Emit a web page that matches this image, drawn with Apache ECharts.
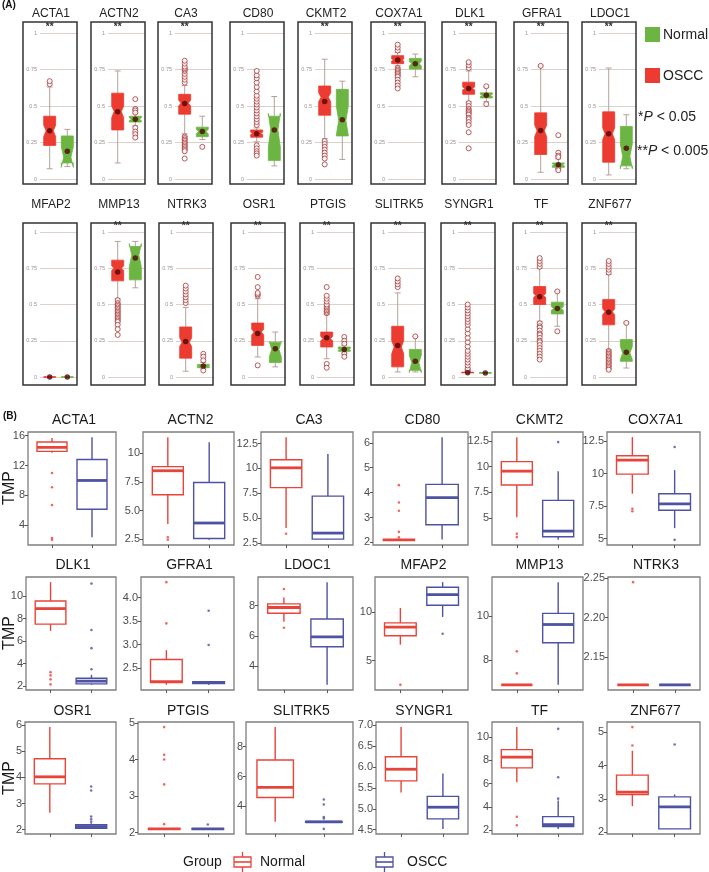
<!DOCTYPE html>
<html><head><meta charset="utf-8">
<script src="https://cdn.jsdelivr.net/npm/echarts@6/dist/echarts.min.js"></script>
<style>html,body{margin:0;padding:0;background:#fff}#c{width:709px;height:872px}</style>
</head><body><div id="c"></div><script>
const FONT = "'Liberation Sans', Arial, sans-serif";

// ---------- Panel A data (values 0..1) ----------
const A_genes = ['ACTA1','ACTN2','CA3','CD80','CKMT2','COX7A1','DLK1','GFRA1','LDOC1',
                 'MFAP2','MMP13','NTRK3','OSR1','PTGIS','SLITRK5','SYNGR1','TF','ZNF677'];
const A_sig = ['**','**','**','','**','**','**','**','**','','**','**','**','**','**','**','**','**'];
const A_ticks = [0, 0.25, 0.5, 0.75, 1];
// [whiskerLow, q1, median, q3, whiskerHigh]
const A_oscc = [
  [0.07,0.23,0.33,0.43,0.63],[0.11,0.336,0.462,0.588,0.74],[0.31,0.444,0.52,0.58,0.64],
  [0.255,0.286,0.313,0.336,0.35],[0.276,0.437,0.56,0.637,0.82],[0.776,0.79,0.815,0.845,0.867],
  [0.53,0.58,0.62,0.663,0.74],[0.046,0.168,0.33,0.453,0.775],[0.028,0.115,0.31,0.46,0.76],
  [0,0,0,0,0],[0.54,0.663,0.75,0.806,0.935],[0.04,0.13,0.24,0.345,0.48],
  [0.138,0.218,0.31,0.372,0.54],[0.126,0.207,0.264,0.31,0.43],[0.035,0.07,0.207,0.35,0.58],
  [0.03,0.03,0.03,0.033,0.036],[0.385,0.5,0.562,0.624,0.75],[0.19,0.36,0.45,0.535,0.707]
];
const A_osccNotch = [
  [0.29,0.37],[0.42,0.50],[0.50,0.54],[0.305,0.32],[0.53,0.59],[0.808,0.822],
  [0.61,0.63],[0.29,0.37],[0.27,0.35],[0,0],[0.735,0.765],[0.21,0.27],
  [0.29,0.33],[0.25,0.28],[0.16,0.25],[0.03,0.03],[0.55,0.575],[0.43,0.47]
];
const A_osccMean = [0.33,0.46,0.517,0.31,0.53,0.815,0.62,0.333,0.31,0,0.725,0.245,0.30,0.27,0.218,0.03,0.553,0.447];
const A_osccOut = [
  [0.65,0.67],
  [],
  [0.66,0.68,0.70,0.72,0.74,0.75,0.76,0.77,0.79,0.81,0.29,0.28,0.27,0.26,0.25,0.24,0.23,0.22,0.21,0.20,0.19,0.14],
  [0.37,0.39,0.41,0.43,0.45,0.47,0.49,0.51,0.53,0.55,0.57,0.60,0.63,0.66,0.69,0.71,0.74,0.23,0.21,0.19,0.175,0.16],
  [0.26,0.24,0.22,0.20,0.18,0.16,0.14,0.10],
  [0.88,0.90,0.92,0.76,0.75,0.74,0.73,0.72,0.71,0.70,0.68,0.66,0.64,0.62],
  [0.76,0.78,0.80,0.52,0.50,0.48,0.47,0.46,0.45,0.44,0.42,0.41,0.39,0.37,0.32,0.21],
  [0.775],
  [],
  [],
  [0.53,0.51,0.50,0.49,0.48,0.47,0.46,0.45,0.44,0.43,0.42,0.41,0.40,0.39,0.38,0.36,0.33,0.29],
  [0.51,0.53,0.55,0.57,0.59,0.61,0.63],
  [0.56,0.57,0.58,0.62,0.69,0.08],
  [0.44,0.45,0.46,0.47,0.48,0.49,0.50,0.52,0.54,0.56,0.62,0.09,0.064],
  [0.62,0.64,0.66,0.68],
  [0.04,0.05,0.06,0.08,0.10,0.12,0.14,0.16,0.18,0.21,0.24,0.27,0.30,0.33,0.36,0.38,0.40,0.42,0.44,0.46,0.48,0.50],
  [0.76,0.78,0.80,0.82,0.37,0.35,0.34,0.32,0.30,0.29,0.27,0.25,0.24,0.22,0.20,0.18,0.16,0.14,0.12],
  [0.72,0.74,0.76,0.78,0.80,0.18,0.17,0.16,0.15,0.14,0.13,0.12,0.11,0.10,0.09,0.08,0.07,0.06,0.05]
];
const A_normal = [
  [0.085,0.11,0.15,0.295,0.34],[0.364,0.39,0.41,0.43,0.45],[0.27,0.29,0.325,0.355,0.43],
  [0.09,0.126,0.336,0.43,0.565],[0.134,0.295,0.40,0.614,0.67],[0.70,0.753,0.79,0.826,0.856],
  [0.53,0.555,0.573,0.59,0.63],[0.074,0.08,0.097,0.11,0.138],[0.07,0.09,0.155,0.36,0.44],
  [0,0,0,0,0],[0.615,0.67,0.84,0.9,0.935],[0.057,0.064,0.076,0.087,0.1],
  [0.07,0.10,0.19,0.24,0.31],[0.166,0.177,0.19,0.207,0.22],[0.035,0.046,0.10,0.19,0.28],
  [0.025,0.027,0.028,0.029,0.031],[0.35,0.435,0.472,0.516,0.59],[0.062,0.108,0.166,0.258,0.373]
];
const A_normalNotch = [
  [0.08,0.22],[0.40,0.42],[0.31,0.34],[0.22,0.45],[0.30,0.50],[0.775,0.805],
  [0.565,0.58],[0.09,0.104],[0.07,0.24],[0,0],[0.76,0.92],[0.072,0.08],
  [0.14,0.245],[0.185,0.195],[0.03,0.15],[0.028,0.028],[0.46,0.485],[0.12,0.21]
];
const A_normalMean = [0.19,0.41,0.325,0.336,0.405,0.79,0.573,0.097,0.21,0,0.82,0.076,0.195,0.19,0.108,0.028,0.472,0.17];
const A_normalOut = [
  [],[0.547,0.48,0.47,0.455,0.35,0.325,0.307,0.284],[0.22],[],[],[],
  [0.635,0.513],[0.30,0.18,0.16,0.15,0.07,0.06],[],[],[],[0.16,0.14,0.115,0.045],
  [],[0.276,0.25,0.23,0.16,0.14],[0.28],[],[0.59,0.315],[0.373]
];

// ---------- Panel B data (TMP) ----------
const B_genes = ['ACTA1','ACTN2','CA3','CD80','CKMT2','COX7A1','DLK1','GFRA1','LDOC1',
                 'MFAP2','MMP13','NTRK3','OSR1','PTGIS','SLITRK5','SYNGR1','TF','ZNF677'];
const B_normal = [
  [13.7,13.9,14.43,15.15,15.7],[3.82,6.38,8.47,8.83,11.4],[4.02,8.07,10.06,10.87,13.14],
  [2.1,2.1,2.1,2.1,2.1],[5.1,8.22,9.57,10.49,12.87],[8.45,9.95,11.03,11.36,12.79],
  [6.9,7.5,8.88,9.55,11.23],[2.14,2.19,2.21,2.68,2.88],[6.93,7.49,7.87,8.11,8.53],
  [6.64,7.57,8.47,8.9,10.45],[6.9,6.9,6.9,6.9,6.9],[2.1155,2.1155,2.1155,2.1155,2.1155],
  [2.65,3.75,4.02,4.71,5.92],[2.1,2.1,2.1,2.1,2.1],[2.97,4.6,5.27,7.1,9.3],
  [5.39,5.67,5.95,6.25,6.96],[6.12,7.35,8.28,8.93,10.87],[2.78,3.13,3.2,3.71,4.44]
];
const B_normalOut = [
  [11.0,9.1,6.7,2.3,2.05],[2.67,2.45],[3.44],[4.3,3.6,3.27,2.42,2.2],[3.5,3.17],[7.3,7.1],
  [3.24,2.95,2.6,2.15],[4.33,3.45],[9.09,6.53],[2.47],[8.41,7.42],[2.2447],
  [],[4.89,4.13,4.0,3.32,2.23],[],[],[3.14,2.4],[5.15,4.6]
];
const B_oscc = [
  [2.4,6.15,10.0,12.8,15.8],[2.44,2.56,3.91,7.44,10.95],[2.83,2.9,3.51,7.22,11.45],
  [2.11,2.71,3.8,4.33,6.23],[2.9,3.2,3.75,6.73,9.57],[5.81,7.18,7.67,8.45,10.26],
  [2.11,2.2,2.44,2.7,3.0],[2.14,2.17,2.19,2.21,2.22],[2.75,5.27,5.93,7.11,9.55],
  [9.52,10.73,11.84,12.6,13.13],[6.9,8.8,9.62,10.12,11.53],[2.1155,2.1155,2.1155,2.1155,2.1155],
  [2.03,2.05,2.12,2.19,2.25],[2.1,2.1,2.1,2.1,2.1],[2.94,2.94,2.97,3.0,3.0],
  [4.52,4.76,5.04,5.3,5.85],[2.09,2.29,2.46,3.15,4.53],[2.1,2.1,2.76,3.06,3.13]
];
const B_osccOut = [
  [],[],[],[],[12.39],[12.03,4.91],
  [11.1,6.98,5.37,3.5],[3.72,2.99],[],[7.78],[],[],
  [3.65,3.5,2.5,2.4,2.3],[2.22],[4.46,4.13,3.3,3.2,2.5],[],[10.72,6.55,4.7],[4.63]
];
const B_tickValues = [
  [4,8,12,16],[2.5,5,7.5,10],[2.5,5,7.5,10,12.5],[2,3,4,5,6],[5,7.5,10,12.5],[5,7.5,10,12.5],
  [2,4,6,8,10],[2.5,3,3.5,4],[4,6,8],[5,10],[8,10],[2.15,2.2,2.25],
  [2,3,4,5,6],[2,3,4,5],[4,6,8],[4.5,5,5.5,6,6.5,7],[2,4,6,8,10],[2,3,4,5]
];
const B_tickLabels = [
  ['4','8','12','16'],['2.5','5.0','7.5','10'],['2.5','5.0','7.5','10','12.5'],['2','3','4','5','6'],
  ['5','7.5','10','12.5'],['5','7.5','10','12.5'],
  ['2','4','6','8','10'],['2.5','3.0','3.5','4.0'],['4','6','8'],['5','10'],['8','10'],['2.15','2.20','2.25'],
  ['2','3','4','5','6'],['2','3','4','5'],['4','6','8'],['4.5','5.0','5.5','6.0','6.5','7.0'],
  ['2','4','6','8','10'],['2','3','4','5']
];

// ---------- styles / layout ----------
const A_RED = '#ec3b30', A_GREEN = '#6cb543', A_WHISK = '#b5a09a', A_MEAN = '#4f0808', A_OUT = '#a83535';
const B_RED = '#e8443a', B_BLUE = '#4e52a3';
const A_rows = [{top:22,bottom:184,gTop:33,gBot:179,title:14},{top:223,bottom:385,gTop:232,gBot:377,title:205}];
const A_frameLeft = [[23,91,158,230,298,371,442,514,582],[23,91,159,231,300,371,441,513,582]];
const A_frameW = 54, A_inner = 17;
const B_rows = [{top:432,bottom:545,title:420},{top:577,bottom:690,title:565},{top:722,bottom:834,title:711}];
const B_frameRight = [116,234,353,468,583,700];
const B_frameLeft = [[28,143,261,373,492,607],[26,141,258,375,492,608],[25,138,246,376,492,607]];

const grid = [], xAxis = [], yAxis = [], series = [], graphic = [];

function renderA(sig) {
  return function (params, api) {
    const x = api.value(0);
    const v = [1,2,3,4,5,6,7].map(k => api.value(k));
    const [lo,q1,med,q3,hi,nlo,nhi] = v;
    const cx = api.coord([x, 0])[0];
    const hw = api.size([0.34, 0])[0];
    const Y = t => api.coord([x, t])[1];
    const L = cx - hw, R = cx + hw, ins = hw * 0.4;
    const fill = x === 1 ? A_RED : A_GREEN;
    const ch = [
      {type:'line', shape:{x1:cx,y1:Y(q3),x2:cx,y2:Y(hi)}, style:{stroke:A_WHISK,lineWidth:1}},
      {type:'line', shape:{x1:cx,y1:Y(q1),x2:cx,y2:Y(lo)}, style:{stroke:A_WHISK,lineWidth:1}},
      {type:'line', shape:{x1:cx-hw*0.5,y1:Y(hi),x2:cx+hw*0.5,y2:Y(hi)}, style:{stroke:A_WHISK,lineWidth:1}},
      {type:'line', shape:{x1:cx-hw*0.5,y1:Y(lo),x2:cx+hw*0.5,y2:Y(lo)}, style:{stroke:A_WHISK,lineWidth:1}},
      {type:'polygon', shape:{points:[[L,Y(q1)],[L,Y(nlo)],[L+ins,Y(med)],[L,Y(nhi)],[L,Y(q3)],
        [R,Y(q3)],[R,Y(nhi)],[R-ins,Y(med)],[R,Y(nlo)],[R,Y(q1)]]},
        style:{fill:fill, stroke:fill, lineWidth:0.8}}
    ];
    if (x === 1 && sig) {
      ch.push({type:'text', style:{text:sig, x:cx, y:api.coord([x,1])[1]-6, align:'center', verticalAlign:'middle',
        font:'bold 10px ' + FONT, fill:'#333'}});
    }
    return {type:'group', children: ch};
  };
}

function renderB(params, api) {
  const x = api.value(0);
  const [lo,q1,med,q3,hi] = [1,2,3,4,5].map(k => api.value(k));
  const cx = api.coord([x, 0])[0];
  const hw = api.size([0.375, 0])[0];
  const Y = t => api.coord([x, t])[1];
  const c = x === 1 ? B_RED : B_BLUE;
  return {type:'group', children:[
    {type:'line', shape:{x1:cx,y1:Y(q3),x2:cx,y2:Y(hi)}, style:{stroke:c,lineWidth:1.4}},
    {type:'line', shape:{x1:cx,y1:Y(q1),x2:cx,y2:Y(lo)}, style:{stroke:c,lineWidth:1.4}},
    {type:'rect', shape:{x:cx-hw, y:Y(q3), width:2*hw, height:Y(q1)-Y(q3)}, style:{fill:'#fff', stroke:c, lineWidth:1.4}},
    {type:'line', shape:{x1:cx-hw,y1:Y(med),x2:cx+hw,y2:Y(med)}, style:{stroke:c,lineWidth:2.8}}
  ]};
}

// ---------- Panel A ----------
A_genes.forEach((g, i) => {
  const row = i < 9 ? 0 : 1, col = i % 9, R = A_rows[row];
  const fl = A_frameLeft[row][col];
  graphic.push({type:'rect', z:100, shape:{x:fl, y:R.top, width:A_frameW, height:R.bottom - R.top},
    style:{fill:'none', stroke:'#333', lineWidth:1.5}});
  graphic.push({type:'text', z:100, style:{text:g, x:fl + A_frameW/2 + 1, y:R.title, align:'center', verticalAlign:'middle',
    font:'12px ' + FONT, fill:'#222'}});
  const gi = grid.length;
  grid.push({left:fl + A_inner, top:R.gTop, width:A_frameW - A_inner, height:R.gBot - R.gTop, outerBoundsMode:'none'});
  xAxis.push({gridIndex:gi, type:'value', min:0.45, max:2.55, show:false});
  yAxis.push({gridIndex:gi, type:'value', min:A_ticks[0], max:A_ticks[A_ticks.length-1], interval:A_ticks[1]-A_ticks[0],
    axisLine:{show:false}, axisTick:{show:false},
    axisLabel:{fontSize:5.5, color:'#9a9290', margin:3, fontFamily:FONT},
    splitLine:{lineStyle:{color:'#dcd0cb', width:1}}});
  series.push({type:'custom', xAxisIndex:gi, yAxisIndex:gi, clip:false, z:2, silent:true,
    renderItem: renderA(A_sig[i]), encode:{x:0, y:[1,2,3,4,5]},
    data:[[1, ...A_oscc[i], ...A_osccNotch[i]], [2, ...A_normal[i], ...A_normalNotch[i]]]});
  series.push({type:'scatter', xAxisIndex:gi, yAxisIndex:gi, z:3, silent:true, symbol:'circle', symbolSize:5,
    itemStyle:{color:'#fff', borderColor:A_OUT, borderWidth:1},
    data: A_osccOut[i].map(v => [1, v]).concat(A_normalOut[i].map(v => [2, v]))});
  series.push({type:'scatter', xAxisIndex:gi, yAxisIndex:gi, z:4, silent:true, symbol:'circle', symbolSize:5.5,
    itemStyle:{color:A_MEAN}, data:[[1, A_osccMean[i]], [2, A_normalMean[i]]]});
});

// Panel A legend
graphic.push({type:'rect', shape:{x:645,y:27,width:15,height:15}, style:{fill:A_GREEN}});
graphic.push({type:'text', style:{text:'Normal', x:663, y:35, verticalAlign:'middle', font:'14px ' + FONT, fill:'#222'}});
graphic.push({type:'rect', shape:{x:645,y:68,width:15,height:15}, style:{fill:A_RED}});
graphic.push({type:'text', style:{text:'OSCC', x:663, y:76, verticalAlign:'middle', font:'14px ' + FONT, fill:'#222'}});
graphic.push({type:'text', style:{text:'*{i|P} < 0.05', x:638, y:117, verticalAlign:'middle', font:'14px ' + FONT, fill:'#222',
  rich:{i:{fontStyle:'italic', fontSize:14, fontFamily:FONT, fill:'#222'}}}});
graphic.push({type:'text', style:{text:'**{i|P} < 0.005', x:637, y:151, verticalAlign:'middle', font:'14px ' + FONT, fill:'#222',
  rich:{i:{fontStyle:'italic', fontSize:14, fontFamily:FONT, fill:'#222'}}}});
graphic.push({type:'text', style:{text:'(A)', x:2, y:5, verticalAlign:'middle', font:'bold 10px ' + FONT, fill:'#111'}});
graphic.push({type:'text', style:{text:'(B)', x:3, y:416, verticalAlign:'middle', font:'bold 10px ' + FONT, fill:'#111'}});

// ---------- Panel B ----------
B_genes.forEach((g, i) => {
  const row = Math.floor(i / 6), col = i % 6, R = B_rows[row];
  const fl = B_frameLeft[row][col], fr = B_frameRight[col];
  const all = B_normal[i].concat(B_oscc[i], B_normalOut[i], B_osccOut[i]);
  const dmin = Math.min(...all), dmax = Math.max(...all), pad = (dmax - dmin) * 0.05;
  graphic.push({type:'text', style:{text:g, x:(fl + fr)/2 + 2, y:R.title, align:'center', verticalAlign:'middle',
    font:'14px ' + FONT, fill:'#1a1a1a'}});
  const gi = grid.length;
  grid.push({left:fl, top:R.top, width:fr - fl, height:R.bottom - R.top, show:true,
    borderColor:'#7f7f7f', borderWidth:1.3, backgroundColor:'#fff', outerBoundsMode:'none'});
  xAxis.push({gridIndex:gi, type:'value', min:0.4, max:2.6, axisLine:{show:false}, splitLine:{show:false},
    axisLabel:{show:false, customValues:[1,2]},
    axisTick:{show:true, length:3, customValues:[1,2], lineStyle:{color:'#555', width:1}}});
  const tv = B_tickValues[i], tl = B_tickLabels[i];
  yAxis.push({gridIndex:gi, type:'value', min:dmin - pad, max:dmax + pad,
    axisLine:{show:false}, splitLine:{show:false},
    axisTick:{show:true, length:3, customValues:tv, lineStyle:{color:'#555', width:1}},
    axisLabel:{customValues:tv, margin:3, fontSize:11, color:'#4d4d4d', fontFamily:FONT,
      formatter: v => { const k = tv.findIndex(t => Math.abs(t - v) < 1e-9); return k >= 0 ? tl[k] : ''; }}});
  series.push({type:'custom', xAxisIndex:gi, yAxisIndex:gi, clip:false, z:2, silent:true, renderItem:renderB,
    encode:{x:0, y:[1,2,3,4,5]}, data:[[1, ...B_normal[i]], [2, ...B_oscc[i]]]});
  series.push({type:'scatter', xAxisIndex:gi, yAxisIndex:gi, z:3, silent:true, symbol:'circle', symbolSize:2.6,
    itemStyle:{color:B_RED}, data:B_normalOut[i].map(v => [1, v])});
  series.push({type:'scatter', xAxisIndex:gi, yAxisIndex:gi, z:3, silent:true, symbol:'circle', symbolSize:2.6,
    itemStyle:{color:B_BLUE}, data:B_osccOut[i].map(v => [2, v])});
});

// TMP labels
[488, 633, 778].forEach(y => graphic.push({type:'text', x:10, y:y, rotation:Math.PI/2,
  style:{text:'TMP', x:0, y:0, align:'center', verticalAlign:'middle', font:'16px ' + FONT, fill:'#1a1a1a'}}));

// Panel B legend
graphic.push({type:'text', style:{text:'Group', x:183, y:862, verticalAlign:'middle', font:'14px ' + FONT, fill:'#1a1a1a'}});
function legendKey(x, c) {
  graphic.push({type:'line', shape:{x1:x+8.5,y1:852,x2:x+8.5,y2:857}, style:{stroke:c, lineWidth:1.3}});
  graphic.push({type:'line', shape:{x1:x+8.5,y1:867,x2:x+8.5,y2:872}, style:{stroke:c, lineWidth:1.3}});
  graphic.push({type:'rect', shape:{x:x, y:857, width:17, height:10}, style:{fill:'#fff', stroke:c, lineWidth:1.3}});
  graphic.push({type:'line', shape:{x1:x,y1:862,x2:x+17,y2:862}, style:{stroke:c, lineWidth:1.6}});
}
legendKey(234, B_RED);
graphic.push({type:'text', style:{text:'Normal', x:260, y:862, verticalAlign:'middle', font:'14px ' + FONT, fill:'#1a1a1a'}});
legendKey(376, B_BLUE);
graphic.push({type:'text', style:{text:'OSCC', x:407, y:862, verticalAlign:'middle', font:'14px ' + FONT, fill:'#1a1a1a'}});

const chart = echarts.init(document.getElementById('c'));
chart.setOption({animation:false, backgroundColor:'#fff', textStyle:{fontFamily:FONT},
  grid, xAxis, yAxis, series, graphic});
</script></body></html>
